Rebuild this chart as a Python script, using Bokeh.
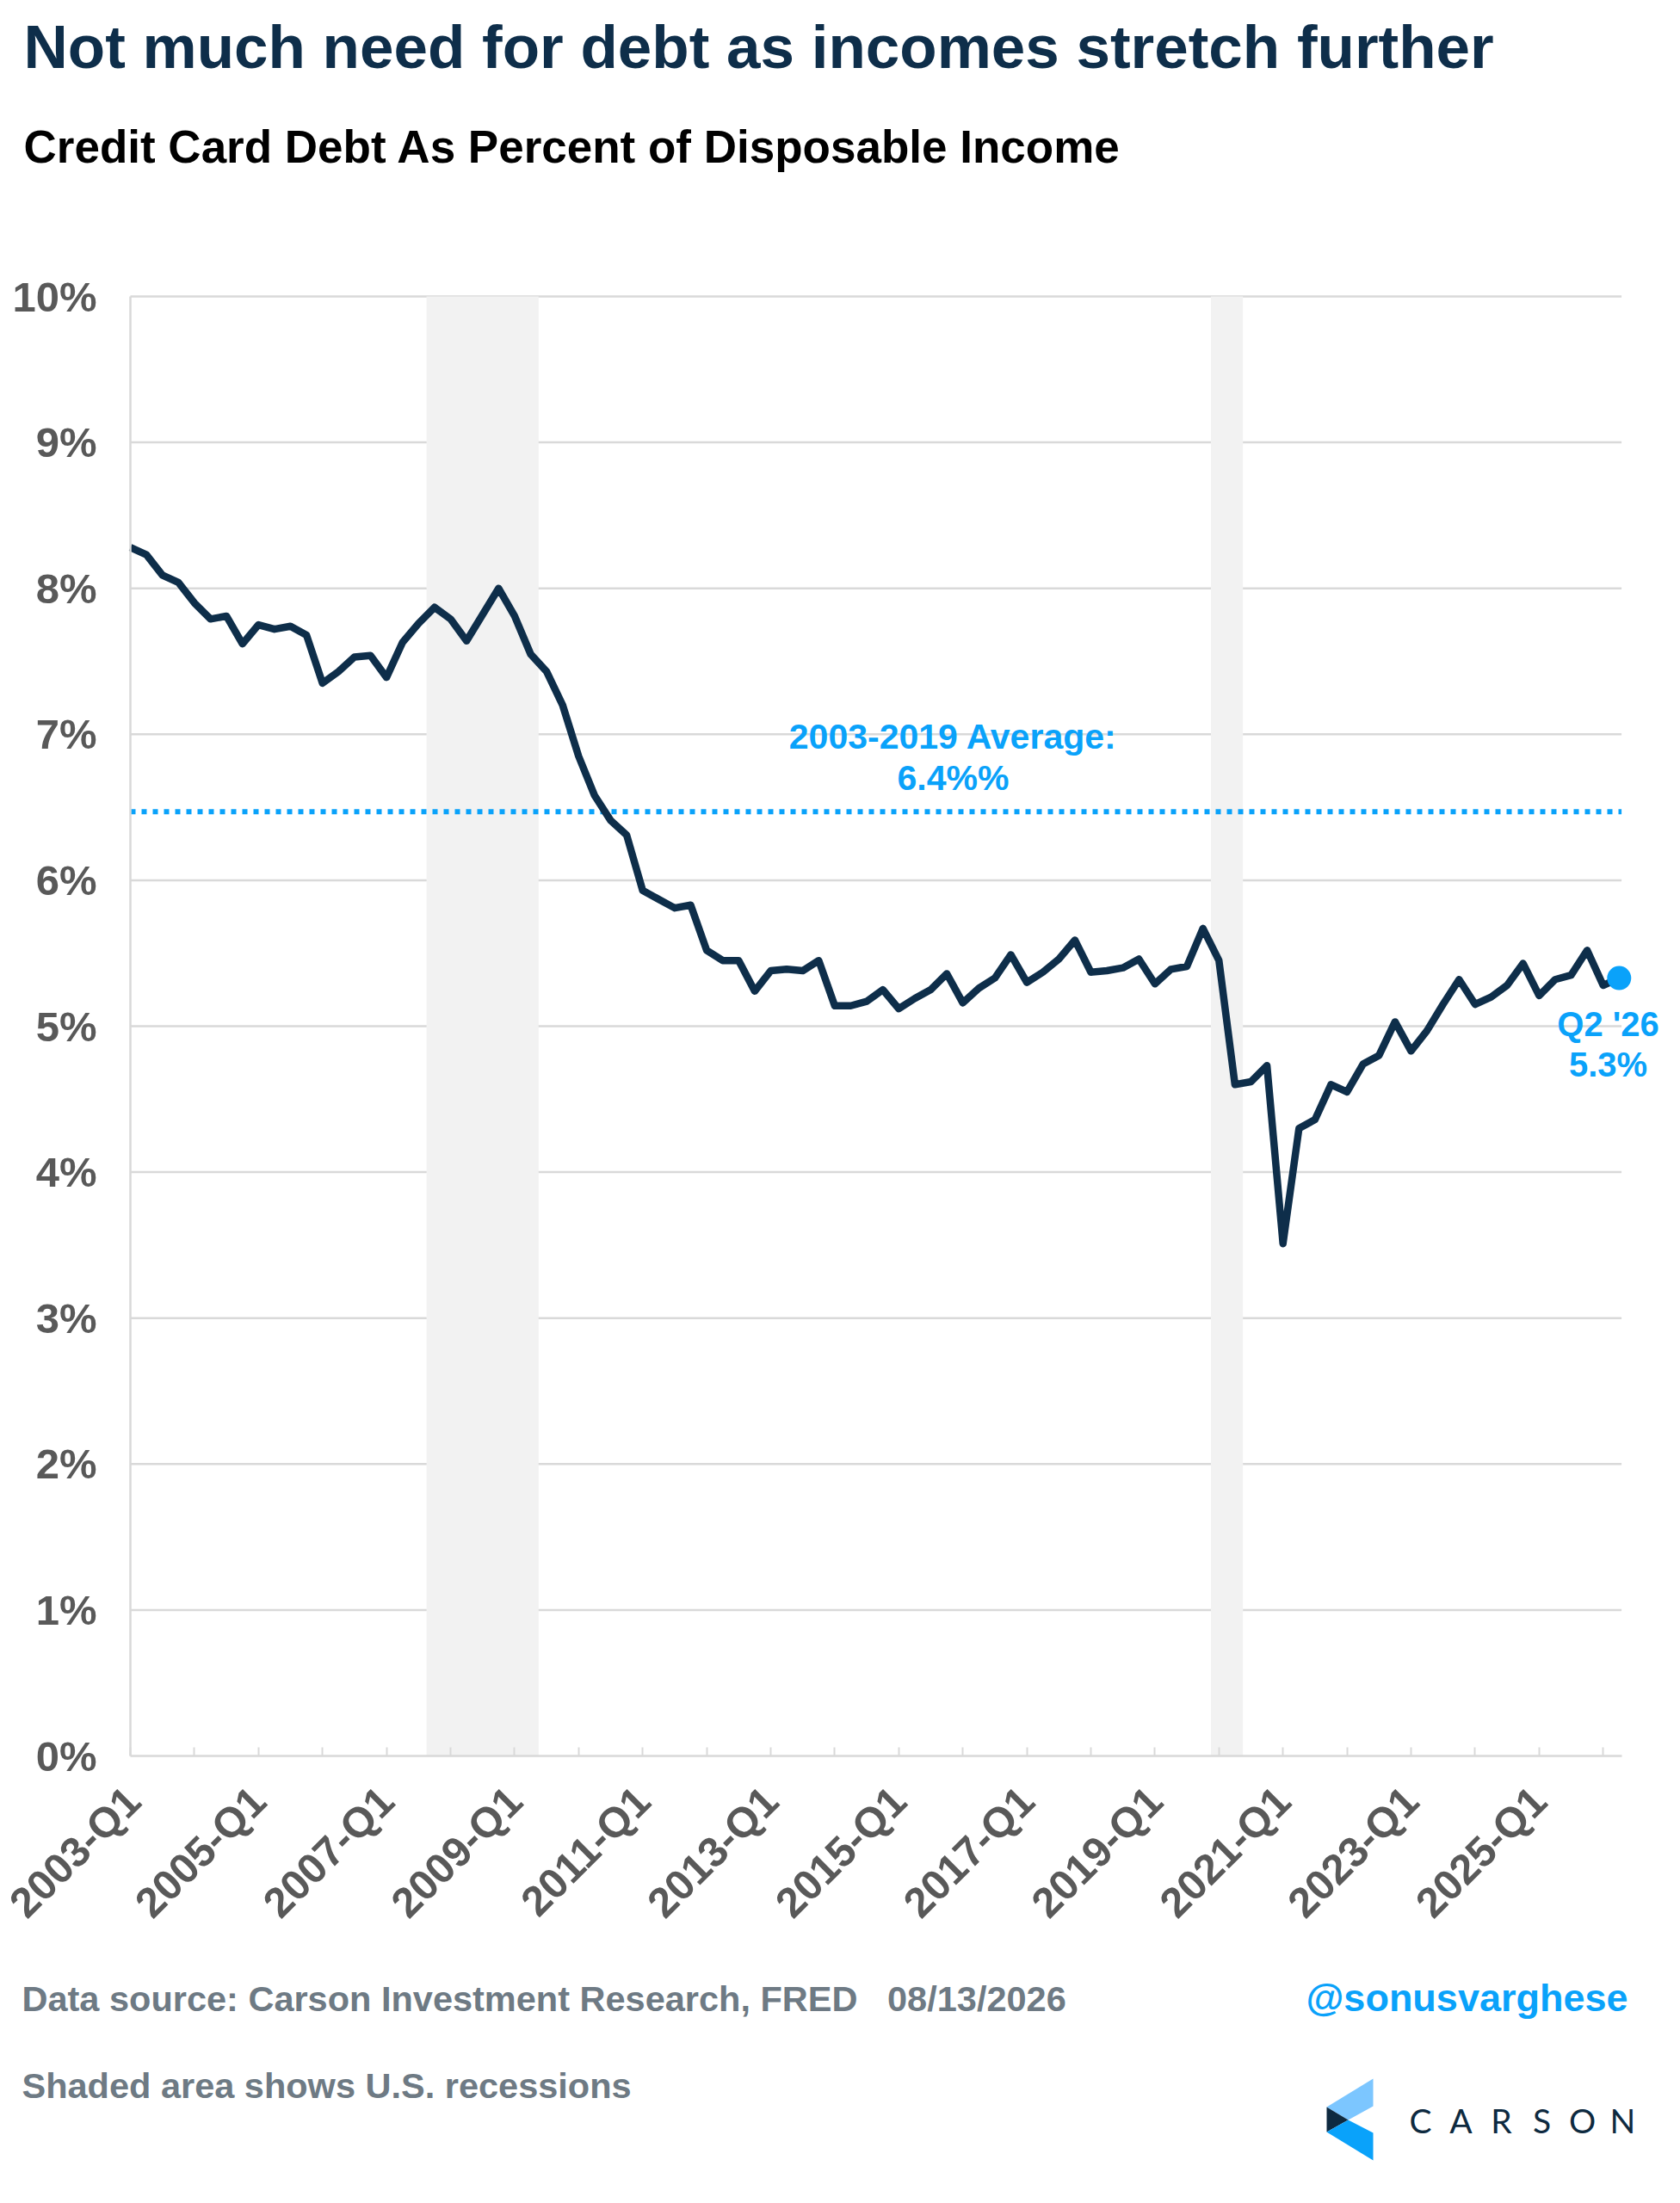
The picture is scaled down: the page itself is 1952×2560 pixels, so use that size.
import math

from bokeh.plotting import figure
from bokeh.models import Range1d, FixedTicker, Label
from bokeh.embed import file_html
from bokeh.resources import INLINE

# quarterly credit card debt as % of disposable income, 2003-Q1 .. 2026-Q2
years = list(range(2003, 2027))
quarters = [f"{y}-Q{q}" for y in years for q in range(1, 5)][:94]

debt_pct = [
    8.28, 8.23, 8.09, 8.04, 7.90, 7.79, 7.81, 7.62, 7.75, 7.72, 7.74, 7.68,
    7.35, 7.43, 7.53, 7.54, 7.39, 7.63, 7.76, 7.87, 7.79, 7.64, 7.82, 8.00,
    7.81, 7.55, 7.43, 7.20, 6.85, 6.58, 6.41, 6.31, 5.93, 5.87, 5.81, 5.83,
    5.52, 5.45, 5.45, 5.24, 5.38, 5.39, 5.38, 5.45, 5.14, 5.14, 5.17, 5.25,
    5.12, 5.19, 5.25, 5.36, 5.16, 5.26, 5.33, 5.49, 5.30, 5.37, 5.46, 5.59,
    5.37, 5.38, 5.40, 5.46, 5.29, 5.39, 5.41, 5.67, 5.45, 4.60, 4.62, 4.73,
    3.51, 4.30, 4.36, 4.60, 4.55, 4.74, 4.80, 5.03, 4.83, 4.97, 5.15, 5.32,
    5.15, 5.20, 5.28, 5.43, 5.21, 5.32, 5.35, 5.52, 5.28, 5.33,
]

recession_start = ["2007-Q4", "2020-Q1"]
recession_end = ["2009-Q2", "2020-Q2"]

avg_2003_2019 = 6.47
y_ticks = list(range(0, 11))
tick_every = 4   # a tick each year, a label every other year

NAVY = "#0E2E4A"
BLUE = "#0AA2FA"
GRAY = "#595959"
FOOT = "#6E7A84"
GRID = "#D9D9D9"
FONT = "Liberation Sans"

n = len(debt_pct)
idx = list(range(n))
x_last = n - 1 + 0.15

# the frame covers the whole figure; plotting area is x 151..1884, y 344..2040
# in picture pixels, the axes are pinned inside it with fixed_location
STEP = 18.6
PCT = 169.6
W, H = 1936, 2544


def xr(px):
    return (px - 151) / STEP


def yr(py):
    return (2040 - py) / PCT


p = figure(
    width=W, height=H,
    x_range=Range1d(xr(0), xr(W)), y_range=Range1d(yr(H), yr(0)),
    min_border=0, min_border_left=0, min_border_right=0,
    min_border_top=0, min_border_bottom=0,
    output_backend="svg", toolbar_location=None,
)
p.outline_line_color = None
p.xgrid.grid_line_color = None
p.ygrid.grid_line_color = None

# grid lines
p.segment(x0=[0] * (len(y_ticks) - 1), x1=[x_last] * (len(y_ticks) - 1),
          y0=y_ticks[1:], y1=y_ticks[1:], line_color=GRID, line_width=2.5)

# recessions
p.quad(left=[quarters.index(s) - 0.5 for s in recession_start],
       right=[quarters.index(e) + 0.5 for e in recession_end],
       bottom=0, top=10, fill_color="#F2F2F2", line_color=None)

# average line
p.line(x=[0, x_last], y=[avg_2003_2019] * 2, line_color=BLUE, line_width=6,
       line_dash="6 7")

p.line(x=idx, y=debt_pct, line_color=NAVY, line_width=8.5, line_join="round")
p.scatter(x=[n - 1], y=[debt_pct[-1]], size=28, color=BLUE, line_color=None)

# axes
p.xaxis.fixed_location = 0
p.yaxis.fixed_location = 0

p.xaxis.ticker = FixedTicker(ticks=list(range(0, n, tick_every)))
p.xaxis.major_label_overrides = {
    i: (quarters[i] if (i // tick_every) % 2 == 0 else "") for i in range(0, n, tick_every)
}
p.xaxis.major_label_orientation = math.pi / 4
p.xaxis.bounds = (0, x_last)
p.xaxis.axis_line_color = GRID
p.xaxis.axis_line_width = 2.5
p.xaxis.major_tick_line_color = GRID
p.xaxis.major_tick_line_width = 2
p.xaxis.major_tick_in = 10
p.xaxis.major_tick_out = 0
p.xaxis.minor_tick_line_color = None
p.xaxis.major_label_standoff = 44

p.yaxis.ticker = FixedTicker(ticks=y_ticks)
p.yaxis.major_label_overrides = {t: f"{t}%" for t in y_ticks}
p.yaxis.bounds = (0, 10)
p.yaxis.axis_line_color = GRID
p.yaxis.axis_line_width = 2.5
p.yaxis.major_tick_line_color = None
p.yaxis.minor_tick_line_color = None
p.yaxis.major_label_standoff = 33

for ax in (p.xaxis, p.yaxis):
    ax.major_label_text_font = FONT
    ax.major_label_text_font_style = "bold"
    ax.major_label_text_font_size = "49px"
    ax.major_label_text_color = GRAY


def add_text(px, py, text, size, color, align="left", style="bold", font=FONT):
    # py is the wanted baseline; the label sits about a third of an em lower
    py = py - 0.35 * size
    p.add_layout(Label(x=xr(px), y=yr(py), text=text, text_font=font,
                       text_font_style=style, text_font_size=f"{size}px",
                       text_color=color, text_align=align, text_baseline="alphabetic"))


# titles
add_text(27, 79, "Not much need for debt as incomes stretch further", 71, NAVY)
add_text(27, 189, "Credit Card Debt As Percent of Disposable Income", 53, "black")

# annotations
add_text(1107, 870, "2003-2019 Average:", 41, BLUE, align="center")
add_text(1107, 918, "6.4%%", 41, BLUE, align="center")
add_text(1868, 1203, "Q2 '26", 40, BLUE, align="center")
add_text(1868, 1250, f"{debt_pct[-1]:.1f}%", 40, BLUE, align="center")

# footer
add_text(25, 2337, "Data source: Carson Investment Research, FRED\u00a0\u00a0\u00a008/13/2026",
         41.5, FOOT)
add_text(1891, 2337, "@sonusvarghese", 45, BLUE, align="right")
add_text(25, 2438, "Shaded area shows U.S. recessions", 41.5, FOOT)

# logo
logo_parts = [
    ([1595, 1541, 1566, 1595], [2415, 2448, 2463, 2447], "#7CC6FF"),
    ([1541, 1566, 1541], [2448, 2463, 2477], "#0E2A40"),
    ([1566, 1595, 1595, 1541], [2463, 2478, 2510, 2477], "#0AA2FA"),
]
for xs, ys, c in logo_parts:
    p.patch(x=[xr(v) for v in xs], y=[yr(v) for v in ys], fill_color=c, line_color=None)
for k, ch in enumerate("CARSON"):
    add_text(1650 + 47 * k, 2477, ch, 39, "#0E2A40", align="center",
             style="normal", font="Lato")

open("out.html", "w").write(file_html(p, INLINE))
